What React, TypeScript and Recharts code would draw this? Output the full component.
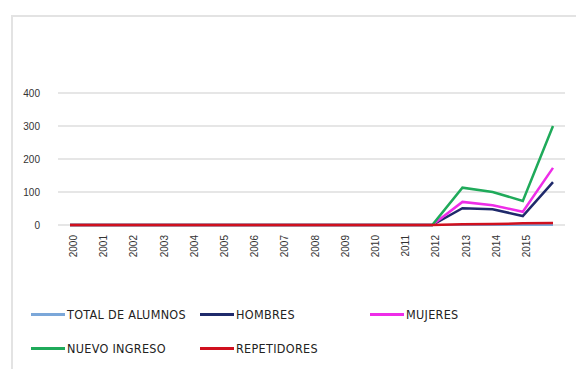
import React from 'react';
import { LineChart, Line, XAxis, YAxis, CartesianGrid } from 'recharts';

const years = ['2000', '2001', '2002', '2003', '2004', '2005', '2006', '2007', '2008', '2009', '2010', '2011', '2012', '2013', '2014', '2015', ''];
const totalAlumnos = [0, 0, 0, 0, 0, 0, 0, 0, 0, 0, 0, 0, 0, 0, 0, 0, 0];
const hombres = [0, 0, 0, 0, 0, 0, 0, 0, 0, 0, 0, 0, 0, 51, 48, 27, 130];
const mujeres = [0, 0, 0, 0, 0, 0, 0, 0, 0, 0, 0, 0, 0, 70, 60, 40, 173];
const nuevoIngreso = [0, 0, 0, 0, 0, 0, 0, 0, 0, 0, 0, 0, 0, 113, 100, 73, 300];
const repetidores = [0, 0, 0, 0, 0, 0, 0, 0, 0, 0, 0, 0, 0, 2, 3, 5, 6];
const yTicks = [0, 100, 200, 300, 400];

const series = [
    { key: 'total', name: 'TOTAL DE ALUMNOS', color: '#7ba7d9', values: totalAlumnos },
    { key: 'hombres', name: 'HOMBRES', color: '#1f2a6b', values: hombres },
    { key: 'mujeres', name: 'MUJERES', color: '#ee2de8', values: mujeres },
    { key: 'nuevo', name: 'NUEVO INGRESO', color: '#1faa5a', values: nuevoIngreso },
    { key: 'repetidores', name: 'REPETIDORES', color: '#d0101e', values: repetidores },
];

const data = years.map((year, i) => {
    const row: Record<string, string | number> = { year };
    series.forEach(s => { row[s.key] = s.values[i]; });
    return row;
});

// legend slots, same grid as the original: 3 columns, 2 rows
const legendPos = [
    { left: 31, top: 306 },
    { left: 200, top: 306 },
    { left: 370, top: 306 },
    { left: 31, top: 340 },
    { left: 200, top: 340 },
];

const tickStyle = { fontSize: 10, fill: '#333', fontFamily: '"Liberation Sans", sans-serif' };

export default function App() {
    return (
        <div style={{ position: 'absolute', left: 0, top: 0, width: 576, height: 369, background: '#fff', overflow: 'hidden' }}>
            <div style={{ position: 'absolute', left: 11, top: 15, width: 580, height: 370, borderTop: '2px solid #e3e3e3', borderLeft: '2px solid #e3e3e3' }} />
            <div style={{ position: 'absolute', left: 0, top: 0 }}>
                <LineChart width={576} height={275} data={data} margin={{ top: 93, right: 11, left: 0, bottom: 5 }}>
                    <CartesianGrid vertical={false} stroke="#e6e6e6" strokeWidth={2} />
                    <XAxis
                        dataKey="year"
                        interval={0}
                        padding={{ left: 12, right: 12 }}
                        axisLine={false}
                        tickLine={false}
                        angle={-90}
                        textAnchor="end"
                        height={45}
                        tick={tickStyle}
                        tickMargin={4}
                    />
                    <YAxis
                        domain={[0, 400]}
                        ticks={yTicks}
                        axisLine={false}
                        tickLine={false}
                        width={58}
                        tick={tickStyle}
                        tickMargin={12}
                    />
                    {series.map(s => (
                        <Line
                            key={s.key}
                            type="linear"
                            dataKey={s.key}
                            name={s.name}
                            stroke={s.color}
                            strokeWidth={s.key === 'total' ? 2 : 2.5}
                            dot={false}
                            isAnimationActive={false}
                        />
                    ))}
                </LineChart>
            </div>
            {series.map((s, i) => (
                <div key={s.key} style={{ position: 'absolute', left: legendPos[i].left, top: legendPos[i].top, height: 16, display: 'flex', alignItems: 'center' }}>
                    <span style={{ display: 'inline-block', width: 34, height: 3, background: s.color, marginRight: 2 }} />
                    <span style={{ fontFamily: '"DejaVu Sans Condensed", "Liberation Sans", sans-serif', fontSize: 12.5, color: '#222', letterSpacing: 0.3 }}>{s.name}</span>
                </div>
            ))}
        </div>
    );
}
